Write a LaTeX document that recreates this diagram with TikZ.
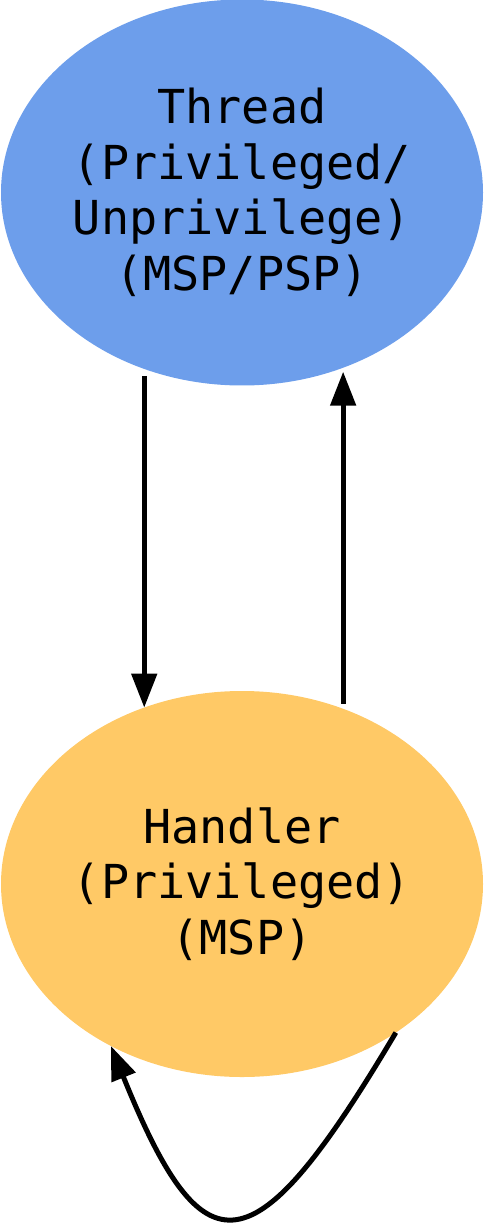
\documentclass[tikz,border=0pt]{standalone}
\usepackage{fontspec}
\usepackage{tikz}
\usetikzlibrary{arrows.meta,positioning,shapes,calc}
\newfontfamily\monolabel{DejaVu Sans Mono}
\definecolor{threadblue}{HTML}{6D9EEB}
\definecolor{handlerorange}{HTML}{FFC966}

\begin{document}
\begin{tikzpicture}[x=0.5pt, y=-0.5pt, line width=2.5pt, >={Triangle[length=17pt,width=12.5pt]},main node/.style={ellipse,inner sep=0pt,outer sep=0pt,minimum width=241pt,minimum height=193pt,align=center}]%
\useasboundingbox (0,0) rectangle (484,1224);
\begin{scope}[every node/.style={font=\monolabel\fontsize{23.4}{27.8}\selectfont}]
\node[main node, fill=threadblue] (v1) at (242,192.5) {Thread\\(Privileged/\\Unprivilege)\\(MSP/PSP)};
\node[main node, fill=handlerorange] (v2) at (242,884) {Handler\\(Privileged)\\(MSP)};
\end{scope}
\begin{scope}
\draw[->, shorten <=3.5pt] (v1.241) -- (v2.119);
\draw[->, shorten <=2.5pt, shorten >=2pt] (v2.60) -- (v1.300);
\draw[->] (v2.316) .. controls +(-143,241) and +(93,230) .. (v2.231);
\end{scope}
\end{tikzpicture}
\end{document}
